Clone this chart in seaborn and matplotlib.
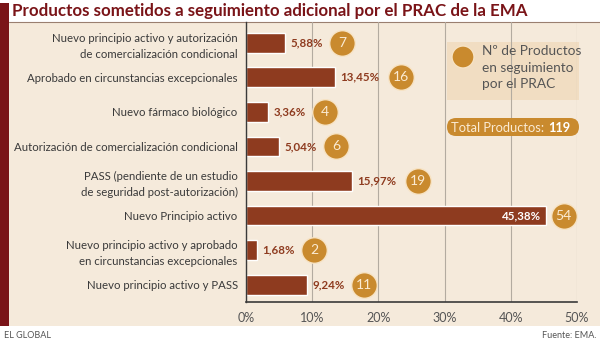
import matplotlib
matplotlib.use('Agg')
import matplotlib.pyplot as plt
import seaborn as sns
import pandas as pd
from matplotlib.patches import Rectangle, FancyBboxPatch, Circle
from matplotlib.lines import Line2D
from matplotlib.transforms import IdentityTransform

# ---------------- data ----------------
categories = [
    "Nuevo principio activo y autorización\nde comercialización condicional",
    "Aprobado en circunstancias excepcionales",
    "Nuevo fármaco biológico",
    "Autorización de comercialización condicional",
    "PASS (pendiente de un estudio\nde seguridad post-autorización)",
    "Nuevo Principio activo",
    "Nuevo principio activo y aprobado\nen circunstancias excepcionales",
    "Nuevo principio activo y PASS",
]
percentages = [5.88, 13.45, 3.36, 5.04, 15.97, 45.38, 1.68, 9.24]
pct_labels = ["5,88%", "13,45%", "3,36%", "5,04%", "15,97%", "45,38%", "1,68%", "9,24%"]
counts = [7, 16, 4, 6, 19, 54, 2, 11]
x_ticks = [0, 10, 20, 30, 40, 50]
x_tick_labels = ["0%", "10%", "20%", "30%", "40%", "50%"]
title = "Productos sometidos a seguimiento adicional por el PRAC de la EMA"
legend_text = "Nº de Productos\nen seguimiento\npor el PRAC"
total_label = "Total Productos:"
total_value = "119"

# ---------------- style ----------------
sns.set_style("white")
plt.rcParams['font.family'] = ['Lato', 'DejaVu Sans']

BAR = '#8E3B1F'
DARKRED = '#7A1418'
PANEL = '#F5EADB'
BOX = '#F1DDC2'
ORANGE = '#C98A2E'
CREAM = '#FBEBD3'
TXT = '#3a3a3a'

W, H = 600, 344
fig = plt.figure(figsize=(6, 3.44), dpi=100)
fig.patch.set_facecolor('white')

def fx(px):
    return px / W

def fy(py):
    return 1 - py / H

# panel background and strip
fig.add_artist(Rectangle((fx(9), fy(326)), fx(600) - fx(9), fy(22) - fy(326),
                         transform=fig.transFigure, facecolor=PANEL, edgecolor='none', zorder=0))
fig.add_artist(Rectangle((0, fy(326)), fx(9), fy(3) - fy(326),
                         transform=fig.transFigure, facecolor=DARKRED, edgecolor='none', zorder=0))
fig.add_artist(Line2D([fx(9), 1], [fy(21.5)] * 2, transform=fig.transFigure,
                      color='#9a7f70', lw=0.8, zorder=1))

# legend box (behind axes)
fig.add_artist(Rectangle((447, H - 100), 132, 58, transform=IdentityTransform(),
                         facecolor=BOX, edgecolor='none', zorder=0.5))

ax = fig.add_axes([fx(246), fy(302), fx(577) - fx(246), fy(22) - fy(302)])
ax.set_facecolor('none')
ax.set_zorder(1)

df = pd.DataFrame({'cat': categories, 'pct': percentages})
sns.barplot(data=df, x='pct', y='cat', orient='h', color=BAR, saturation=1,
            width=0.57, errorbar=None, ax=ax, zorder=2)

ax.set_xlim(0, 50)
ax.set_ylim(7.5, -0.6)
ax.set_xlabel('')
ax.set_ylabel('')
ax.set_xticks(x_ticks)
ax.set_xticklabels(x_tick_labels)
ax.set_yticks(range(len(categories)))
ax.set_yticklabels(categories, linespacing=1.55)
ax.xaxis.grid(True, color='#B3ABA0', lw=0.8)
ax.yaxis.grid(False)
ax.set_axisbelow(True)
for s in ['top', 'right']:
    ax.spines[s].set_visible(False)
ax.spines['left'].set_color(TXT)
ax.spines['left'].set_linewidth(1.0)
ax.spines['bottom'].set_color(TXT)
ax.spines['bottom'].set_linewidth(1.2)
ax.tick_params(axis='x', length=3, color='#888888', labelsize=9, labelcolor='#555555', pad=4)
ax.tick_params(axis='y', length=0, pad=6, labelsize=8.2, labelcolor=TXT)

for i, (p, lab, c) in enumerate(zip(percentages, pct_labels, counts)):
    big = p > 40
    if big:
        ax.annotate(lab, (p, i), xytext=(-4, 0), textcoords='offset points',
                    ha='right', va='center', color='white', weight='bold', fontsize=8.3, zorder=5)
        cx = p + 2.6
    else:
        ax.annotate(lab, (p, i), xytext=(4, 0), textcoords='offset points',
                    ha='left', va='center', color=BAR, weight='bold', fontsize=8.3, zorder=5)
        cx = p + (10.0 if p >= 10 else 8.6)
    ax.scatter([cx], [i], s=340, color=ORANGE, edgecolors='#F7E3C4', linewidths=1,
               zorder=4, clip_on=False)
    ax.text(cx, i, str(c), ha='center', va='center', color=CREAM, fontsize=10, zorder=5)

# legend circle and text
fig.add_artist(Circle((463, H - 57), 11, transform=IdentityTransform(),
                      facecolor=ORANGE, edgecolor='#F7E3C4', lw=1, zorder=3))
fig.text(fx(482), fy(45), legend_text, ha='left', va='top', fontsize=9.8,
         color='#555555', linespacing=1.45, zorder=3)

# total pill
fig.add_artist(FancyBboxPatch((447, H - 136), 132, 18,
                              boxstyle='round,pad=0,rounding_size=9',
                              transform=IdentityTransform(), facecolor=ORANGE,
                              edgecolor='none', zorder=3))
fig.text(fx(544), fy(127.5), total_label, ha='right', va='center', fontsize=9.3,
         color=CREAM, zorder=4)
fig.text(fx(548), fy(127.5), total_value, ha='left', va='center', fontsize=9.3,
         color='white', weight='bold', zorder=4)

# title
fig.text(fx(12), fy(11), title, ha='left', va='center', fontsize=12.2, weight='bold',
         color=DARKRED)

# footer
fig.text(fx(4), fy(335), "EL GLOBAL", ha='left', va='center', fontsize=6.5, color='#555555')
fig.text(fx(596), fy(335), "Fuente: EMA.", ha='right', va='center', fontsize=6.5, color='#555555')

fig.savefig('out.png', dpi=100)
